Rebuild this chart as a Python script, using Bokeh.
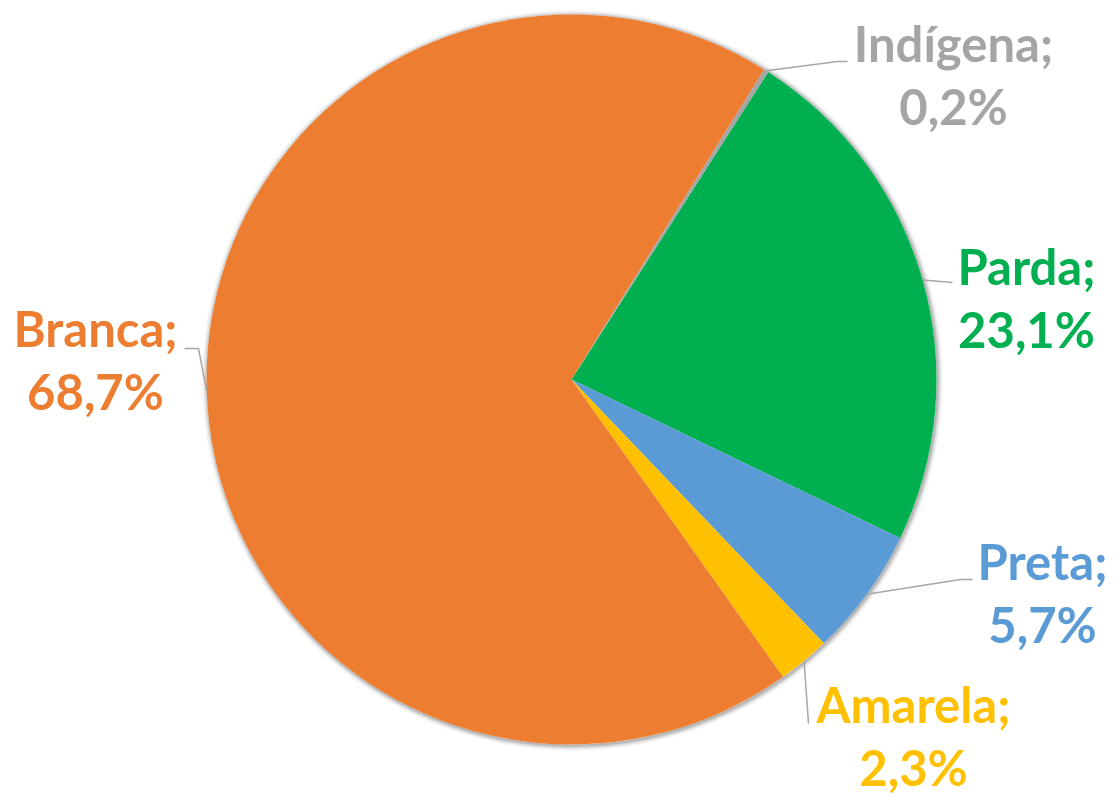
import math
from bokeh.plotting import figure
from bokeh.models import Range1d
from bokeh.core.properties import value
from bokeh.embed import file_html
from bokeh.resources import INLINE

# ---- data (clockwise order, starting at the Parda slice) ----
categories = ["Parda", "Preta", "Amarela", "Branca", "Indígena"]
shares = [23.1, 5.7, 2.3, 68.7, 0.2]
colors = ["#00B050", "#5B9BD5", "#FFC000", "#ED7D31", "#A5A5A5"]

# ---- layout ----
W, H = 1115, 797
first_angle = 32.6  # degrees clockwise from 12 o'clock
cx, cy, R = 571, 379, 365  # picture pixel coords
TEXT_SHIFT = 20  # renderer places alphabetic baseline lower than requested


def py(y):  # picture y -> data y
    return H - y


p = figure(width=W, height=H, output_backend="svg", toolbar_location=None,
           x_range=Range1d(0, W), y_range=Range1d(0, H), min_border=0)
p.axis.visible = False
p.grid.visible = False
p.outline_line_color = None
p.background_fill_color = "white"

# soft shadow
for k, a in zip(range(1, 7), [0.10, 0.08, 0.06, 0.04, 0.025, 0.015]):
    p.circle(x=cx + 1, y=py(cy + 1), radius=R + k, fill_color="#000000",
             fill_alpha=a, line_color=None)
p.circle(x=cx, y=py(cy), radius=R, fill_color="white", line_color=None)

total = sum(shares)
starts, ends, mids = [], [], []
acc = first_angle
for v in shares:
    th0 = acc
    th1 = acc + 360.0 * v / total
    starts.append(math.radians(90 - th0))
    ends.append(math.radians(90 - th1))
    mids.append((th0 + th1) / 2)
    acc = th1

p.wedge(x=cx, y=py(cy), radius=R, start_angle=starts, end_angle=ends,
        direction="clock", fill_color=colors, line_color=None)

# leader lines: from slice edge midpoint through elbow points (picture coords)
elbows = {
    "Parda": [(952, 282)],
    "Preta": [(960, 579), (972, 579)],
    "Amarela": [(808, 723)],
    "Branca": [(198, 348), (184, 348)],
    "Indígena": [(837, 61), (847, 61)],
}
xs, ys = [], []
for cat, m in zip(categories, mids):
    ex = cx + R * math.sin(math.radians(m))
    ey = cy - R * math.cos(math.radians(m))
    pts = [(ex, ey)] + elbows[cat]
    xs.append([q[0] for q in pts])
    ys.append([py(q[1]) for q in pts])
p.multi_line(xs=xs, ys=ys, line_color="#A6A6A6", line_width=1.5)

# labels (center x, baseline of first line), picture coords
label_pos = {
    "Parda": (1026, 285),
    "Preta": (1042, 580),
    "Amarela": (913, 723),
    "Branca": (95, 347),
    "Indígena": (953, 62),
}
LINE = 63
l1x, l1y, l1t, l2y, l2t, lc = [], [], [], [], [], []
for cat, v, c in zip(categories, shares, colors):
    x, y = label_pos[cat]
    y -= TEXT_SHIFT
    l1x.append(x)
    l1y.append(py(y))
    l1t.append(cat + ";")
    l2y.append(py(y + LINE))
    l2t.append(f"{v:.1f}".replace(".", ",") + "%")
    lc.append(c)

for yy, tt in ((l1y, l1t), (l2y, l2t)):
    p.text(x=l1x, y=yy, text=tt, text_color=lc, text_font=value("Lato"),
           text_font_style="bold", text_font_size="49px",
           text_align="center", text_baseline="alphabetic")

open("out.html", "w").write(file_html(p, INLINE))
